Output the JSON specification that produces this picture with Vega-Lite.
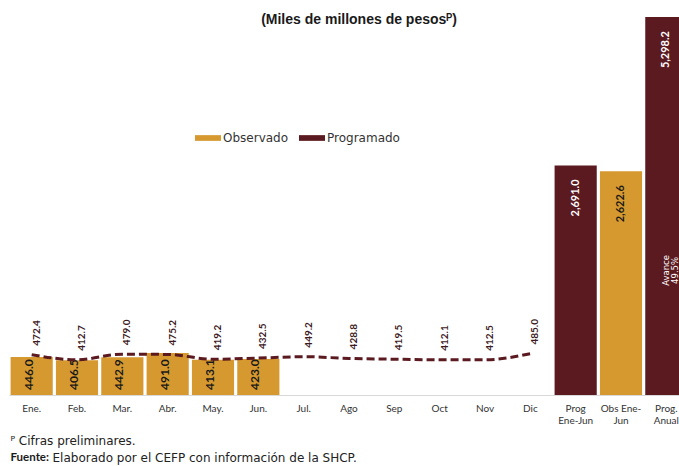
{
  "$schema": "https://vega.github.io/schema/vega-lite/v6.json",
  "width": 670,
  "height": 378,
  "autosize": {"type": "none"},
  "padding": {"left": 9, "top": 17, "right": 0, "bottom": 71},
  "background": "white",
  "config": {"view": {"stroke": null}, "font": "Lato"},
  "title": {
    "text": "(Miles de millones de pesosᴾ)",
    "font": "Liberation Sans",
    "fontSize": 14,
    "fontWeight": "bold",
    "color": "#1a1a1a",
    "anchor": "middle",
    "frame": "group",
    "dx": 15,
    "dy": 13,
    "offset": -11,
    "baseline": "bottom"
  },
  "datasets": {
    "barras": [
      {"cat": "Ene.", "serie": "Observado", "grupo": "mensual", "valor": 446.0},
      {"cat": "Feb.", "serie": "Observado", "grupo": "mensual", "valor": 406.5},
      {"cat": "Mar.", "serie": "Observado", "grupo": "mensual", "valor": 442.9},
      {"cat": "Abr.", "serie": "Observado", "grupo": "mensual", "valor": 491.0},
      {"cat": "May.", "serie": "Observado", "grupo": "mensual", "valor": 413.1},
      {"cat": "Jun.", "serie": "Observado", "grupo": "mensual", "valor": 423.0},
      {"cat": "Prog Ene-Jun", "serie": "Programado", "grupo": "acumulado", "valor": 2691.0},
      {"cat": "Obs Ene-Jun", "serie": "Observado", "grupo": "acumulado", "valor": 2622.6},
      {"cat": "Prog. Anual", "serie": "Programado", "grupo": "acumulado", "valor": 5298.2, "nota": ["Avance", "49.5%"]}
    ],
    "programado": [
      {"cat": "Ene.", "valor": 472.4},
      {"cat": "Feb.", "valor": 412.7},
      {"cat": "Mar.", "valor": 479.0},
      {"cat": "Abr.", "valor": 475.2},
      {"cat": "May.", "valor": 419.2},
      {"cat": "Jun.", "valor": 432.5},
      {"cat": "Jul.", "valor": 449.2},
      {"cat": "Ago", "valor": 428.8},
      {"cat": "Sep", "valor": 419.5},
      {"cat": "Oct", "valor": 412.1},
      {"cat": "Nov", "valor": 412.5},
      {"cat": "Dic", "valor": 485.0}
    ]
  },
  "layer": [
    {
      "data": {"name": "barras"},
      "encoding": {
        "x": {
          "field": "cat", "type": "nominal",
          "scale": {
            "domain": ["Ene.", "Feb.", "Mar.", "Abr.", "May.", "Jun.", "Jul.", "Ago", "Sep", "Oct", "Nov", "Dic", "Prog Ene-Jun", "Obs Ene-Jun", "Prog. Anual"],
            "range": [0, 680], "paddingInner": 0.07, "paddingOuter": 0.035
          },
          "axis": {
            "title": "ᴾ Cifras preliminares.", "titleX": 1, "titleY": 45, "titleAlign": "left", "titleAnchor": "start", "titleBaseline": "middle", "titleFontWeight": "normal", "titleFontSize": 12, "titleColor": "#222", "titleFont": "DejaVu Sans",
            "labelAngle": 0, "labelFontSize": 10, "labelColor": "#333", "labelFont": "Lato", "ticks": false, "domainColor": "#d9d9d9", "labelPadding": 8, "labelBaseline": "top", "labelLineHeight": 12,
            "labelExpr": "datum.label == 'Prog Ene-Jun' ? ['Prog', 'Ene-Jun'] : datum.label == 'Obs Ene-Jun' ? ['Obs Ene-', 'Jun'] : datum.label == 'Prog. Anual' ? ['Prog.', 'Anual'] : datum.label"
          }
        },
        "y": {
          "field": "valor", "type": "quantitative",
          "scale": {"domain": [0, 4430], "clamp": true, "nice": false},
          "axis": {"orient": "left", "title": "Fuente:", "titleX": 1, "titleY": 440, "titleAngle": 0, "titleAlign": "left", "titleBaseline": "middle", "titleFontWeight": "bold", "titleFont": "Lato", "titleFontSize": 11.5, "titleColor": "#1a1a1a", "labels": false, "ticks": false, "domain": false, "grid": false}
        }
      },
      "layer": [
        {
          "mark": {"type": "bar"},
          "encoding": {
            "color": {
              "field": "serie", "type": "nominal",
              "scale": {"domain": ["Observado", "Programado"], "range": ["#D6992F", "#5B1A1F"]},
              "legend": {"orient": "none", "legendX": 186, "legendY": 108, "direction": "horizontal", "title": null, "symbolType": "M-1,-0.22H1V0.22H-1Z", "symbolSize": 676, "symbolOpacity": 1, "symbolStrokeWidth": 0, "labelFontSize": 12, "labelColor": "#333", "labelFont": "DejaVu Sans", "labelOffset": 2, "columnPadding": 10}
            }
          }
        },
        {
          "transform": [{"filter": "datum.grupo == 'mensual'"}],
          "mark": {"type": "text", "angle": 270, "align": "left", "baseline": "middle", "dx": 5, "dy": -3, "fontSize": 12, "fontWeight": "bold", "color": "#1a1a1a"},
          "encoding": {
            "y": {"datum": 0, "type": "quantitative", "scale": {"domain": [0, 4430], "clamp": true, "nice": false},
              "axis": {"orient": "left", "title": "Fuente:", "titleX": 1, "titleY": 440, "titleAngle": 0, "titleAlign": "left", "titleBaseline": "middle", "titleFontWeight": "bold", "titleFont": "Lato", "titleFontSize": 11.5, "titleColor": "#1a1a1a", "labels": false, "ticks": false, "domain": false, "grid": false}},
            "text": {"field": "valor", "type": "quantitative", "format": ".1f"}
          }
        },
        {
          "transform": [{"filter": "datum.grupo == 'acumulado'"}],
          "mark": {"type": "text", "angle": 270, "align": "right", "baseline": "middle", "dx": -14, "fontSize": 11, "fontWeight": "bold"},
          "encoding": {
            "text": {"field": "valor", "type": "quantitative", "format": ",.1f"},
            "color": {"condition": {"test": "datum.serie == 'Programado'", "value": "white"}, "value": "#1a1a1a"}
          }
        },
        {
          "transform": [{"filter": "isValid(datum.nota)"}],
          "mark": {"type": "text", "angle": 270, "align": "center", "baseline": "middle", "font": "DejaVu Sans", "fontSize": 8.5, "fontWeight": "normal", "lineHeight": 8.5, "color": "white"},
          "encoding": {
            "y": {"datum": 1460, "type": "quantitative", "scale": {"domain": [0, 4430], "clamp": true, "nice": false},
              "axis": {"orient": "left", "title": "Fuente:", "titleX": 1, "titleY": 440, "titleAngle": 0, "titleAlign": "left", "titleBaseline": "middle", "titleFontWeight": "bold", "titleFont": "Lato", "titleFontSize": 11.5, "titleColor": "#1a1a1a", "labels": false, "ticks": false, "domain": false, "grid": false}},
            "text": {"field": "nota", "type": "nominal"}
          }
        }
      ]
    },
    {
      "data": {"name": "programado"},
      "encoding": {
        "x": {
          "field": "cat", "type": "nominal",
          "scale": {
            "domain": ["Ene.", "Feb.", "Mar.", "Abr.", "May.", "Jun.", "Jul.", "Ago", "Sep", "Oct", "Nov", "Dic", "Prog Ene-Jun", "Obs Ene-Jun", "Prog. Anual"],
            "range": [0, 680], "paddingInner": 0.07, "paddingOuter": 0.035
          },
          "axis": {
            "title": "ᴾ Cifras preliminares.", "titleX": 1, "titleY": 45, "titleAlign": "left", "titleAnchor": "start", "titleBaseline": "middle", "titleFontWeight": "normal", "titleFontSize": 12, "titleColor": "#222", "titleFont": "DejaVu Sans",
            "labelAngle": 0, "labelFontSize": 10, "labelColor": "#333", "labelFont": "Lato", "ticks": false, "domainColor": "#d9d9d9", "labelPadding": 8, "labelBaseline": "top", "labelLineHeight": 12,
            "labelExpr": "datum.label == 'Prog Ene-Jun' ? ['Prog', 'Ene-Jun'] : datum.label == 'Obs Ene-Jun' ? ['Obs Ene-', 'Jun'] : datum.label == 'Prog. Anual' ? ['Prog.', 'Anual'] : datum.label"
          }
        },
        "y": {
          "field": "valor", "type": "quantitative",
          "scale": {"domain": [0, 4430], "clamp": true, "nice": false},
          "axis": {"orient": "right", "title": "Elaborado por el CEFP con información de la SHCP.", "titleX": -627, "titleY": 440, "titleAngle": 0, "titleAlign": "left", "titleBaseline": "middle", "titleFontWeight": "normal", "titleFont": "DejaVu Sans", "titleFontSize": 12, "titleColor": "#222", "labels": false, "ticks": false, "domain": false, "grid": false}
        }
      },
      "layer": [
        {
          "mark": {"type": "line", "interpolate": "monotone", "strokeDash": [8, 4], "strokeWidth": 3, "color": "#5B1A1F"}
        },
        {
          "mark": {"type": "text", "angle": 270, "align": "left", "baseline": "middle", "dx": 9, "dy": 5, "fontSize": 10, "fontWeight": "bold", "color": "#3d1a1e"},
          "encoding": {
            "text": {"field": "valor", "type": "quantitative", "format": ".1f"}
          }
        }
      ]
    }
  ],
  "resolve": {"axis": {"y": "independent"}}
}
